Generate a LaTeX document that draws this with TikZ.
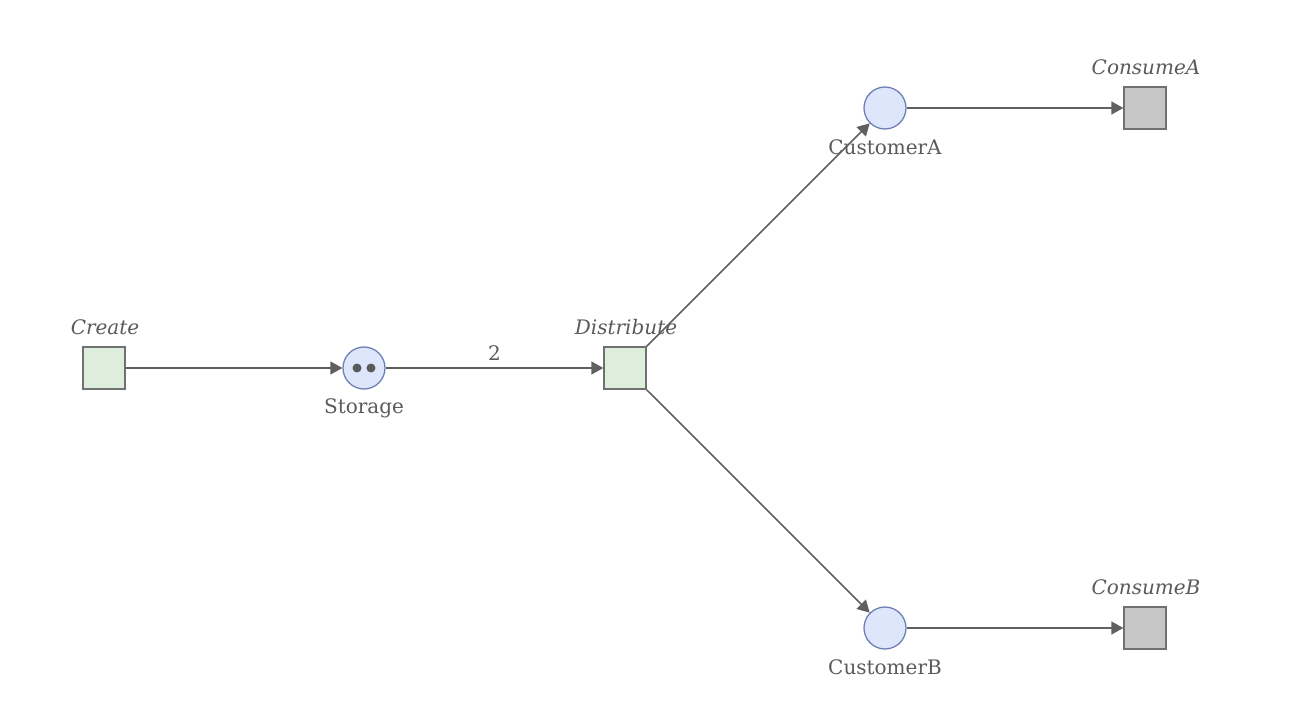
\documentclass[tikz,border=0pt]{standalone}
\usepackage{fontspec}
\setmainfont{DejaVu Serif}
\usetikzlibrary{arrows.meta}
\definecolor{tgreen}{HTML}{DDEEDD}
\definecolor{tblue}{HTML}{DDE6FB}
\definecolor{tbluedraw}{HTML}{6E80B4}
\definecolor{tgray}{HTML}{C6C6C6}
\definecolor{edge}{HTML}{606060}
\definecolor{txt}{HTML}{5A5A5A}
\begin{document}
\begin{tikzpicture}[x=1pt,y=-1pt,
  trans/.style={draw=edge!90,line width=1.4pt,minimum size=42pt,inner sep=0pt,fill=tgreen},
  sink/.style={trans,fill=tgray},
  place/.style={circle,draw=tbluedraw,line width=1.3pt,fill=tblue,minimum size=42pt,inner sep=0pt},
  lbl/.style={text=txt,font=\fontsize{20}{24}\selectfont,inner sep=0pt},
  tlbl/.style={lbl,font=\fontsize{20}{24}\selectfont\itshape},
  arc/.style={draw=edge,line width=1.5pt,-{Triangle[length=12pt,width=13pt]}},
  tok/.style={circle,fill=txt,inner sep=0pt,minimum size=9pt}
]
\useasboundingbox (0,0) rectangle (1304,722);
\node[trans] (create) at (104,368) {};
\node[place] (storage) at (364,368) {};
\node[trans] (dist) at (625,368) {};
\node[place] (custA) at (885,108) {};
\node[place] (custB) at (885,628) {};
\node[sink] (consA) at (1145,108) {};
\node[sink] (consB) at (1145,628) {};
\node[tok] (tok1) at (357,368) {};
\node[tok] (tok2) at (371,368) {};
\node[tlbl] (createl) at (105,327) {Create};
\node[lbl] (storagel) at (364,408) {Storage};
\node[tlbl] (distl) at (626,327) {Distribute};
\node[lbl] (custAl) at (885,147) {CustomerA};
\node[lbl] (custBl) at (885,667) {CustomerB};
\node[tlbl] (consAl) at (1146,67) {ConsumeA};
\node[tlbl] (consBl) at (1146,587) {ConsumeB};
\draw[arc] (create) -- (storage);
\draw[arc] (storage) -- node[lbl,above=7pt] (w) {2} (dist);
\draw[arc] (dist) -- (custA);
\draw[arc] (dist) -- (custB);
\draw[arc] (custA) -- (consA);
\draw[arc] (custB) -- (consB);
\end{tikzpicture}
\end{document}
